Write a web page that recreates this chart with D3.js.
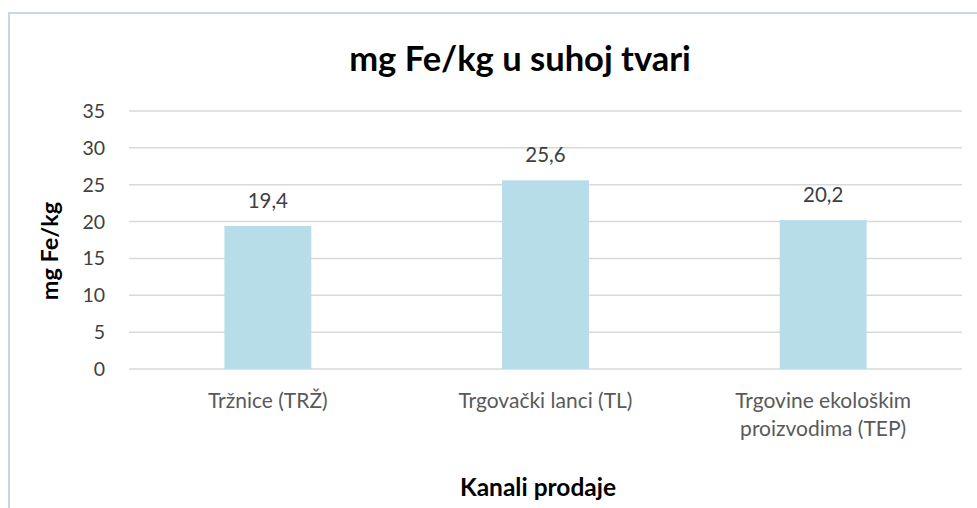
<!DOCTYPE html>
<html>
<head>
<meta charset="utf-8">
<script src="https://d3js.org/d3.v7.min.js"></script>
<style>
  body { margin: 0; background: #fff; font-family: Lato, "Open Sans", sans-serif; }
</style>
</head>
<body>
<script>
const categories = [["Tržnice (TRŽ)"], ["Trgovački lanci (TL)"], ["Trgovine ekološkim", "proizvodima (TEP)"]];
const values = [19.4, 25.6, 20.2];
const yTicks = [0, 5, 10, 15, 20, 25, 30, 35];
const titleText = "mg Fe/kg u suhoj tvari";
const yTitle = "mg Fe/kg";
const xTitle = "Kanali prodaje";

const w = 977, h = 508;
const m = { left: 129, right: 15, top: 111, bottom: 139 };

const svg = d3.select("body").append("svg").attr("width", w).attr("height", h);

// chart frame (only top and left edges show in the crop)
svg.append("path")
  .attr("d", "M9,508 V13 H977")
  .attr("fill", "none").attr("stroke", "#c9d6e9").attr("stroke-width", 2);

const x = d3.scaleBand()
  .domain(d3.range(categories.length))
  .range([m.left, w - m.right])
  .paddingInner(0.687).paddingOuter(0.3435);

const y = d3.scaleLinear().domain([0, 35]).range([h - m.bottom, m.top]);

// gridlines
svg.append("g").selectAll("line").data(yTicks).enter().append("line")
  .attr("x1", m.left).attr("x2", w - m.right)
  .attr("y1", d => y(d)).attr("y2", d => y(d))
  .attr("stroke", "#d9d9d9").attr("stroke-width", 1.5);

// y tick labels
svg.append("g").selectAll("text").data(yTicks).enter().append("text")
  .attr("x", 105).attr("y", d => y(d)).attr("dy", "0.36em")
  .attr("text-anchor", "end").attr("font-size", 19.5).attr("fill", "#404040")
  .text(d => d);

// bars
svg.append("g").selectAll("rect").data(values).enter().append("rect")
  .attr("x", (d, i) => x(i)).attr("width", x.bandwidth())
  .attr("y", d => y(d)).attr("height", d => y(0) - y(d))
  .attr("fill", "#b7dde8");

// value labels
svg.append("g").selectAll("text").data(values).enter().append("text")
  .attr("x", (d, i) => x(i) + x.bandwidth() / 2).attr("y", d => y(d) - 18)
  .attr("text-anchor", "middle").attr("font-size", 20.5).attr("fill", "#404040")
  .text(d => String(d).replace(".", ","));

// category labels
const cat = svg.append("g").selectAll("text").data(categories).enter().append("text")
  .attr("x", (d, i) => x(i) + x.bandwidth() / 2).attr("y", 408)
  .attr("text-anchor", "middle").attr("font-size", 21).attr("fill", "#595959");
cat.selectAll("tspan").data(d => d).enter().append("tspan")
  .attr("x", function() { return d3.select(this.parentNode).attr("x"); })
  .attr("dy", (d, i) => i ? 28 : 0)
  .text(d => d);

// titles
svg.append("text").attr("x", 520).attr("y", 71).attr("text-anchor", "middle")
  .attr("font-size", 34.5).attr("font-weight", "bold").attr("fill", "#000").text(titleText);

svg.append("text").attr("x", 538).attr("y", 496).attr("text-anchor", "middle")
  .attr("font-size", 24.5).attr("font-weight", "bold").attr("fill", "#000").text(xTitle);

svg.append("text").attr("transform", "translate(58,251) rotate(-90)")
  .attr("text-anchor", "middle")
  .attr("font-size", 23.5).attr("font-weight", "bold").attr("fill", "#000").text(yTitle);
</script>
</body>
</html>
